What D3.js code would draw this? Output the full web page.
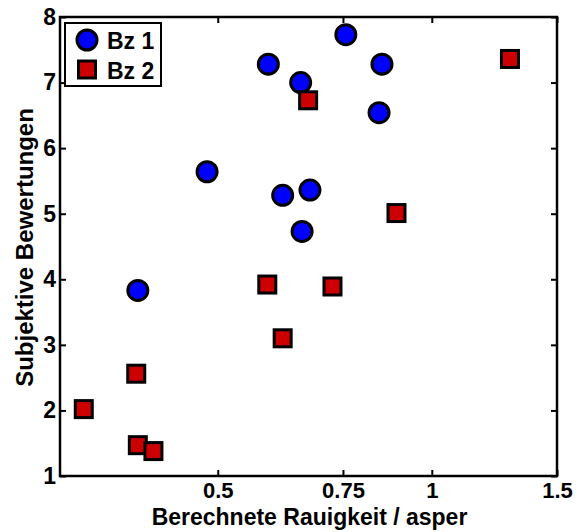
<!DOCTYPE html>
<html>
<head>
<meta charset="utf-8">
<script src="https://cdn.jsdelivr.net/npm/d3@7"></script>
<style>
  html, body { margin: 0; padding: 0; background: #fff; }
  svg { display: block; }
  text { font-family: "Liberation Sans", Arial, Helvetica, sans-serif; font-weight: bold; fill: #000; }
</style>
</head>
<body>
<svg id="chart" width="584" height="532"></svg>
<script>
// ---- data ----
const seriesNames = ["Bz 1", "Bz 2"];
const bz1X = [0.386, 0.483, 0.589, 0.654, 0.757, 0.851, 0.843, 0.617, 0.674, 0.657];
const bz1Y = [3.83, 5.64, 7.28, 7.00, 7.73, 7.28, 6.54, 5.28, 5.36, 4.73];
const bz2X = [1.288, 0.670, 0.892, 0.725, 0.587, 0.617, 0.384, 0.324, 0.386, 0.406];
const bz2Y = [7.36, 6.73, 5.01, 3.89, 3.92, 3.10, 2.56, 2.02, 1.47, 1.38];
const xTicks = [0.5, 0.75, 1, 1.5];
const xTickLabels = ["0.5", "0.75", "1", "1.5"];
const yTicks = [1, 2, 3, 4, 5, 6, 7, 8];
const xTitle = "Berechnete Rauigkeit / asper";
const yTitle = "Subjektive Bewertungen";

// ---- layout ----
const L = 60, R = 557, T = 17, B = 476;
const svg = d3.select("#chart");
const x = d3.scaleLog().domain([0.3, 1.5]).range([L, R]);
const y = d3.scaleLinear().domain([1, 8]).range([B, T]);

const fs = 23;

// axes
const gx = svg.append("g").attr("transform", `translate(0,${B})`)
  .call(d3.axisBottom(x).tickValues(xTicks).tickFormat((d, i) => xTickLabels[i])
    .tickSizeInner(-6).tickSizeOuter(0).tickPadding(6));
const gxt = svg.append("g").attr("transform", `translate(0,${T})`)
  .call(d3.axisTop(x).tickValues(xTicks).tickFormat("").tickSizeInner(-6).tickSizeOuter(0));
const gy = svg.append("g").attr("transform", `translate(${L},0)`)
  .call(d3.axisLeft(y).tickValues(yTicks).tickFormat(d3.format("d"))
    .tickSizeInner(-6).tickSizeOuter(0).tickPadding(4));
const gyr = svg.append("g").attr("transform", `translate(${R},0)`)
  .call(d3.axisRight(y).tickValues(yTicks).tickFormat("").tickSizeInner(-6).tickSizeOuter(0));

[gx, gxt, gy, gyr].forEach(g => {
  g.select(".domain").remove();
  g.selectAll(".tick line").attr("stroke", "#000").attr("stroke-width", 2);
  g.selectAll("text").attr("font-size", fs).attr("font-family", "Liberation Sans, Arial, sans-serif")
    .attr("font-weight", "bold").attr("fill", "#000");
});
gx.selectAll("text").attr("font-size", 22);

// box
svg.append("rect").attr("x", L).attr("y", T).attr("width", R - L).attr("height", B - T)
  .attr("fill", "none").attr("stroke", "#000").attr("stroke-width", 2.5);

// titles
svg.append("text").attr("x", (L + R) / 2 + 1).attr("y", 525)
  .attr("text-anchor", "middle").attr("font-size", 23).text(xTitle);
svg.append("text").attr("transform", `translate(33,${(T + B) / 2 + 1}) rotate(-90)`)
  .attr("text-anchor", "middle").attr("font-size", 24).text(yTitle);

// points
const bz1 = bz1X.map((v, i) => ({ x: v, y: bz1Y[i] }));
const bz2 = bz2X.map((v, i) => ({ x: v, y: bz2Y[i] }));

svg.append("g").selectAll("circle").data(bz1).join("circle")
  .attr("cx", d => x(d.x)).attr("cy", d => y(d.y)).attr("r", 10)
  .attr("fill", "#0000ff").attr("stroke", "#000").attr("stroke-width", 3);

const s = 17;
svg.append("g").selectAll("rect").data(bz2).join("rect")
  .attr("x", d => x(d.x) - s / 2).attr("y", d => y(d.y) - s / 2)
  .attr("width", s).attr("height", s)
  .attr("fill", "#cc0000").attr("stroke", "#000").attr("stroke-width", 3);

// legend
const lg = svg.append("g");
lg.append("rect").attr("x", 65).attr("y", 23).attr("width", 96).attr("height", 63)
  .attr("fill", "#fff").attr("stroke", "#000").attr("stroke-width", 2);
lg.append("circle").attr("cx", 87).attr("cy", 40).attr("r", 10)
  .attr("fill", "#0000ff").attr("stroke", "#000").attr("stroke-width", 3);
lg.append("rect").attr("x", 87 - s / 2).attr("y", 69.5 - s / 2).attr("width", s).attr("height", s)
  .attr("fill", "#cc0000").attr("stroke", "#000").attr("stroke-width", 3);
lg.append("text").attr("x", 107).attr("y", 49).attr("font-size", fs).text(seriesNames[0]);
lg.append("text").attr("x", 107).attr("y", 79).attr("font-size", fs).text(seriesNames[1]);
</script>
</body>
</html>
